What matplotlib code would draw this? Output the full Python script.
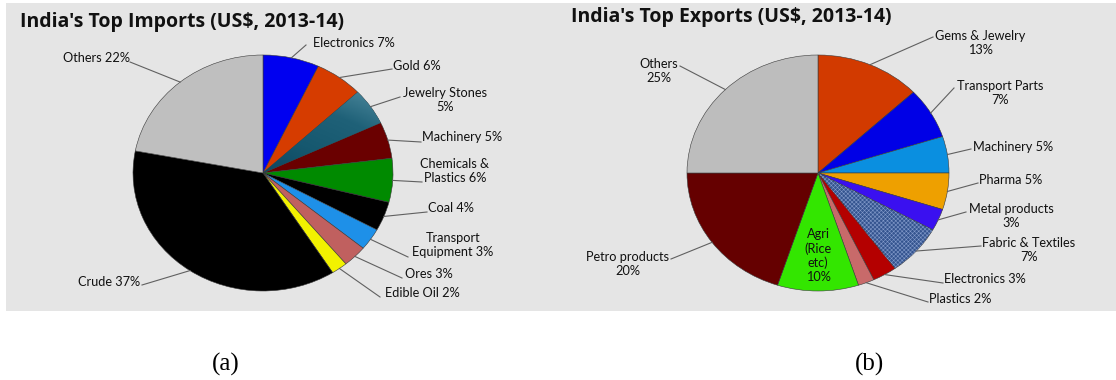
import numpy as np
import matplotlib.pyplot as plt
from matplotlib.patches import Wedge, Rectangle
from matplotlib.colors import LinearSegmentedColormap

# data
imp_labels = ["Electronics 7%", "Gold 6%", "Jewelry Stones\n5%", "Machinery 5%",
              "Chemicals &\nPlastics 6%", "Coal 4%", "Transport\nEquipment 3%",
              "Ores 3%", "Edible Oil 2%", "Crude 37%", "Others 22%"]
imp_values = [7, 6, 5, 5, 6, 4, 3, 3, 2, 37, 22]
imp_colors = ['#0000f0', '#d63c00', '#1b5d75', '#6a0000', '#008a00', '#000000',
              '#1e90e8', '#c0605f', '#f2f200', '#000000', '#bfbfbf']

exp_labels = ["Gems & Jewelry\n13%", "Transport Parts\n7%", "Machinery 5%", "Pharma 5%",
              "Metal products\n3%", "Fabric & Textiles\n7%", "Electronics 3%",
              "Plastics 2%", "Agri\n(Rice\netc)\n10%", "Petro products\n20%", "Others\n25%"]
exp_values = [13, 7, 5, 5, 3, 7, 3, 2, 10, 20, 25]
exp_colors = ['#d23a00', '#0000e6', '#0a8fe0', '#eea000', '#3a10f0', '#34548f',
              '#b40000', '#c86a6a', '#33e600', '#650000', '#bdbdbd']

# layout (pixels, top-left origin): leader end, text anchor, alignment
imp_layout = [((306, 45), (313, 43), 'left'), ((392, 69), (393, 66), 'left'),
              ((400, 97), (445, 100), 'center'), ((421, 142), (422, 137), 'left'),
              ((422, 182), (455, 171), 'center'), ((427, 212), (428, 208), 'left'),
              ((408, 257), (453, 245), 'center'), ((402, 278), (405, 274), 'left'),
              ((380, 297), (385, 293), 'left'), ((142, 285), (140, 282), 'right'),
              ((130, 62), (130, 58), 'right')]
exp_layout = [((933, 37), (980, 43), 'center'), ((954, 88), (1000, 93), 'center'),
              ((971, 149), (973, 147), 'left'), ((978, 183), (979, 180), 'left'),
              ((966, 212), (1011, 216), 'center'), ((981, 246), (1029, 250), 'center'),
              ((943, 283), (944, 279), 'left'), ((928, 302), (929, 299), 'left'),
              (None, None, 'inside'), ((671, 259), (628, 264), 'center'),
              ((680, 66), (659, 71), 'center')]

W, H = 1116, 380
plt.rcParams['font.family'] = ['Lato', 'DejaVu Sans']
plt.rcParams['hatch.linewidth'] = 0.4
plt.rcParams['hatch.color'] = '#8199c9'

fig = plt.figure(figsize=(W / 100, H / 100), dpi=100)
fig.patches.append(Rectangle((6 / W, 1 - 311 / H), 1 - 6 / W, 308 / H,
                             transform=fig.transFigure, facecolor='#e5e5e5',
                             edgecolor='none', zorder=-10))

LABEL_SIZE = 9.2


def draw_pie(values, colors, labels, layout, cx, cy, rx, ry, title, title_xy):
    ax = fig.add_axes([0, 0, 1, 1])
    ax.patch.set_alpha(0)
    wedges, _ = ax.pie(values, colors=colors, startangle=90, counterclock=False,
                       wedgeprops=dict(edgecolor='#3a3a3a', linewidth=0.4))
    ax.set_aspect('auto')
    ax.set_xlim(-cx / rx, (W - cx) / rx)
    ax.set_ylim(-(H - cy) / ry, cy / ry)
    ax.axis('off')

    def to_data(p):
        return (p[0] - cx) / rx, (cy - p[1]) / ry

    for w, lab, (end, txt, ha) in zip(wedges, labels, layout):
        mid = np.deg2rad((w.theta1 + w.theta2) / 2)
        if ha == 'inside':
            ax.text(0.7 * np.cos(mid), 0.7 * np.sin(mid), lab, ha='center', va='center',
                    fontsize=LABEL_SIZE, color='#111111', linespacing=1.2)
            continue
        ex, ey = to_data(end)
        ax.plot([np.cos(mid), ex], [np.sin(mid), ey], color='#606060', lw=0.8)
        tx, ty = to_data(txt)
        ax.text(tx, ty, lab, ha=ha, va='center', fontsize=LABEL_SIZE, color='#111111',
                linespacing=1.2, multialignment='center')
    tx, ty = to_data(title_xy)
    ax.text(tx, ty, title, ha='left', va='baseline', fontsize=14, fontweight='bold',
            color='#111111', family=['Open Sans', 'DejaVu Sans'])
    return ax, wedges


ax1, w1 = draw_pie(imp_values, imp_colors, imp_labels, imp_layout, 263, 173, 130, 118,
                   "India's Top Imports (US$, 2013-14)", (20, 27))
ax2, w2 = draw_pie(exp_values, exp_colors, exp_labels, exp_layout, 818, 173, 131, 118,
                   "India's Top Exports (US$, 2013-14)", (571, 22))

# gradient on jewelry stones slice
gw = w1[2]
yy, xx = np.mgrid[-1:1:200j, -1:1:200j]
grad = np.clip(np.hypot(xx, yy) * 0.5 + (-yy) * 0.6, 0, 1)
cmap = LinearSegmentedColormap.from_list('teal', ['#0d4660', '#16586f', '#1f6178', '#4f8a9e'])
im = ax1.imshow(grad, cmap=cmap, extent=(-1, 1, -1, 1), origin='upper',
                aspect='auto', zorder=1.5)
im.set_clip_path(gw)
ax1.set_xlim(-263 / 130, (W - 263) / 130)
ax1.set_ylim(-(H - 173) / 118, 173 / 118)

# texture on fabric slice
fw = w2[5]
tex = Wedge((0, 0), 1, fw.theta1, fw.theta2, fill=False, hatch='xxxxxxxx',
            edgecolor='#8199c9', linewidth=0)
if hasattr(tex, 'set_hatchcolor'):
    tex.set_hatchcolor('#8199c9')
ax2.add_patch(tex)

fig.text(226 / W, 1 - 364 / H, "(a)", ha='center', va='center', fontsize=18,
         family='Liberation Serif')
fig.text(869 / W, 1 - 364 / H, "(b)", ha='center', va='center', fontsize=18,
         family='Liberation Serif')

fig.savefig('out.png', dpi=100)
